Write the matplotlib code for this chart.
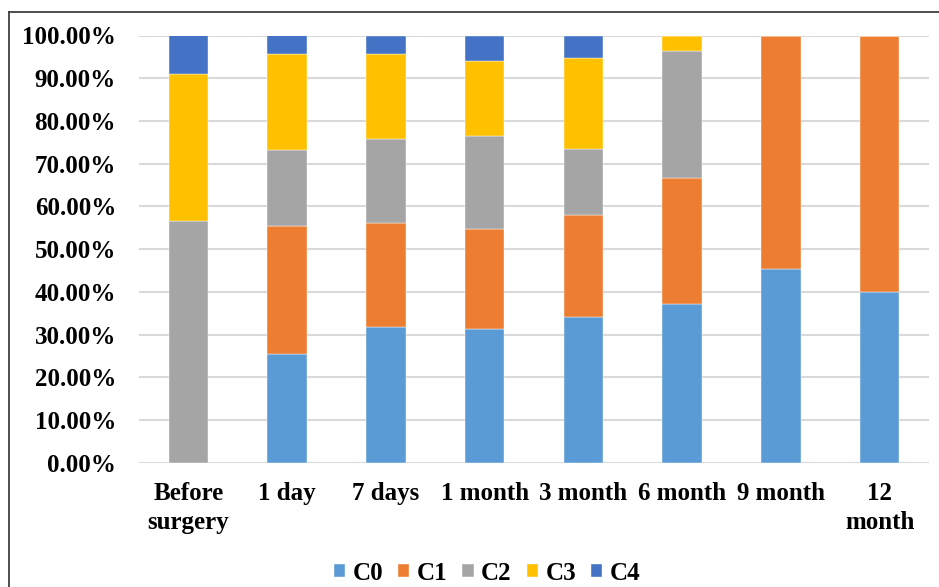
import numpy as np
import matplotlib
matplotlib.use("Agg")
import matplotlib.pyplot as plt
from matplotlib.lines import Line2D
from matplotlib.ticker import FuncFormatter

plt.rcParams['font.family'] = ['Liberation Serif', 'DejaVu Serif']
plt.rcParams['font.weight'] = 'bold'

# Share of patients per grade at each follow-up (percent)
categories = ['Before\nsurgery', '1 day', '7 days', '1 month', '3 month',
              '6 month', '9 month', '12\nmonth']
grades = ['C0', 'C1', 'C2', 'C3', 'C4']
c0 = [0.0, 25.4, 31.8, 31.2, 34.2, 37.1, 45.4, 40.0]
c1 = [0.0, 29.9, 24.3, 23.6, 23.7, 29.5, 54.6, 60.0]
c2 = [56.6, 17.8, 19.6, 21.6, 15.6, 29.7, 0.0, 0.0]
c3 = [34.4, 22.5, 19.9, 17.7, 21.2, 3.7, 0.0, 0.0]
c4 = [9.0, 4.4, 4.4, 5.9, 5.3, 0.0, 0.0, 0.0]
colors = ['#5B9BD5', '#ED7D31', '#A5A5A5', '#FFC000', '#4472C4']

W, H = 939, 587
fig = plt.figure(figsize=(W / 100, H / 100), dpi=100)
ax = fig.add_axes([139 / W, 1 - 462.7 / H, (929 - 139) / W, (462.7 - 35.5) / H])

x = np.arange(len(categories))
bottom = np.zeros(len(categories))
for name, vals, col in zip(grades, [c0, c1, c2, c3, c4], colors):
    vals = np.array(vals) / 100.0
    ax.bar(x, vals, width=0.4, bottom=bottom, color=col, label=name,
           edgecolor='white', linewidth=0.3, zorder=3)
    bottom += vals

ax.set_xlim(-0.5, len(categories) - 0.5)
ax.set_ylim(0, 1)
ax.set_yticks(np.linspace(0, 1, 11))
ax.yaxis.set_major_formatter(FuncFormatter(lambda v, p: '{:.2f}%'.format(v * 100)))
ax.set_xticks(x)
ax.set_xticklabels(categories, linespacing=1.35)
ax.grid(axis='y', color='#D9D9D9', linewidth=1.5, zorder=0)
for s in ax.spines.values():
    s.set_visible(False)
ax.tick_params(axis='both', length=0, labelsize=18)
ax.tick_params(axis='y', pad=16.5)
ax.tick_params(axis='x', pad=14)

leg = fig.legend(loc='center', bbox_to_anchor=(487 / W, 1 - 573 / H), ncol=5,
                 frameon=False, fontsize=18, handlelength=0.45, handleheight=0.45,
                 handletextpad=0.3, columnspacing=0.6)

# outer chart frame (top and left edges)
fig.add_artist(Line2D([9 / W, 1], [1 - 12 / H, 1 - 12 / H], color='#404040', lw=1.3))
fig.add_artist(Line2D([9 / W, 9 / W], [0, 1 - 12 / H], color='#404040', lw=1.3))

fig.savefig('out.png', dpi=100)
